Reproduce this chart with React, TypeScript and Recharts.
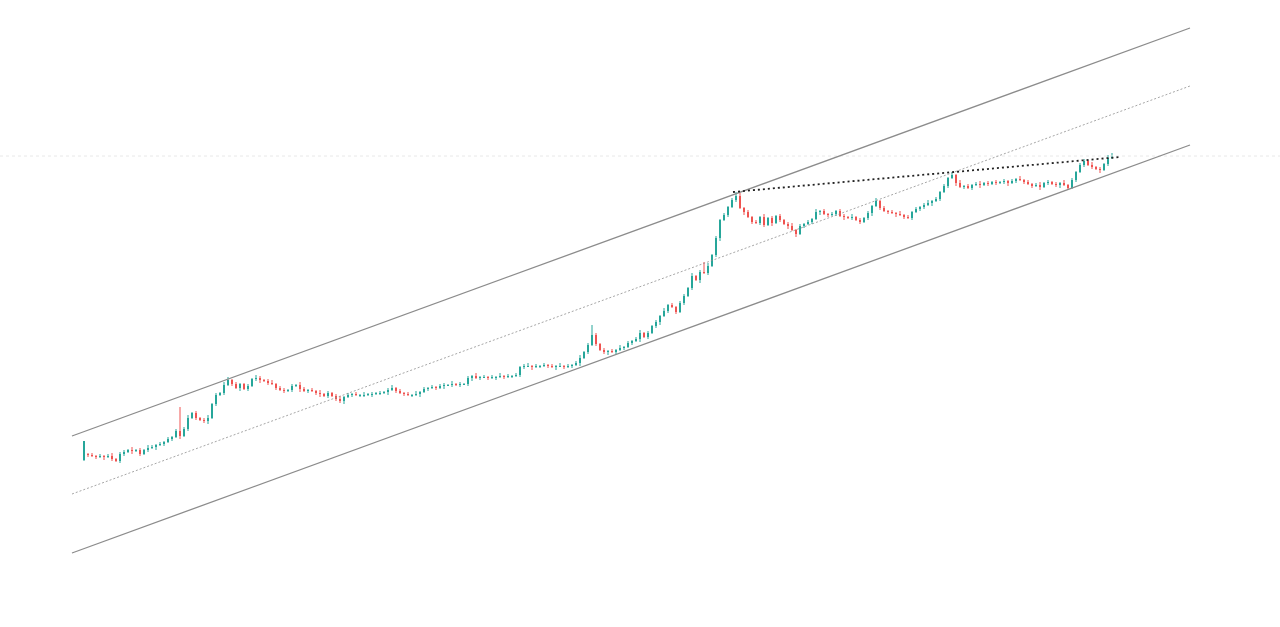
import { ComposedChart, Bar, XAxis, YAxis, ReferenceLine } from "recharts";

// Weekly closes (index level units)
const CLOSES: number[] = [
  186, 172, 171, 170, 171, 170, 171, 168, 166, 173,
  175, 177, 176, 177, 173, 177, 179, 180, 182, 183,
  185, 188, 190, 196, 191, 198, 209, 214, 209, 207,
  206, 209, 223, 232, 234, 242, 247, 243, 239, 243,
  238, 241, 248, 249, 247, 246, 244, 243, 239, 237,
  236, 237, 241, 242, 238, 236, 237, 236, 234, 233,
  231, 234, 231, 228, 226, 230, 232, 233, 232, 232,
  232, 233, 233, 234, 234, 235, 237, 239, 236, 234,
  233, 232, 232, 233, 235, 238, 239, 240, 239, 241,
  242, 242, 243, 242, 243, 243, 249, 251, 249, 250,
  250, 249, 250, 250, 251, 250, 251, 251, 252, 260,
  261, 261, 260, 261, 261, 262, 261, 260, 261, 261,
  260, 261, 262, 264, 269, 275, 282, 292, 283, 277,
  275, 276, 275, 277, 279, 280, 284, 286, 288, 294,
  290, 294, 301, 305, 311, 316, 322, 320, 315, 324,
  331, 339, 351, 347, 355, 354, 361, 372, 389, 407,
  412, 420, 427, 431, 419, 415, 410, 405, 404, 410,
  402, 409, 404, 411, 407, 403, 401, 397, 393, 401,
  403, 405, 408, 415, 416, 413, 412, 413, 416, 411,
  410, 409, 410, 407, 405, 409, 414, 421, 426, 419,
  416, 415, 414, 413, 412, 410, 409, 415, 418, 420,
  422, 424, 426, 428, 435, 441, 449, 452, 444, 440,
  441, 439, 442, 443, 442, 444, 443, 445, 444, 445,
  446, 444, 446, 448, 447, 445, 443, 441, 442, 440,
  444, 445, 443, 442, 444, 442, 439, 447, 455, 462,
  466, 462, 460, 458, 457, 463, 469, 471,
];

// Opens that gap away from the previous close
const OPENS: Record<number, number> = { 0: 167, 1: 173 };

// Wick length above / below each body, one digit per week
const UP_WICKS =
  "0121212312" + "2131213212" + "1212123121" + "2312132121" + "1213212312" +
  "2121321213" + "1212312121" + "3121212312" + "1213121212" + "2131212131" +
  "2121312121" + "2312121213" + "1212312121" + "2121312123" + "1212131212" +
  "2131213121" + "2121312121" + "3121212312" + "1213121212" + "2131212131" +
  "2121312121" + "2312121213" + "1212312121" + "2121312123" + "1212131212" +
  "21312132";
const DOWN_WICKS =
  "1212131212" + "2131212131" + "2121312121" + "2312121213" + "1212312121" +
  "2121312123" + "1212131212" + "2131213121" + "2121312121" + "3121212312" +
  "1213121212" + "2131212131" + "2121312121" + "2312121213" + "1212312121" +
  "2121312123" + "1212131212" + "2131213121" + "2121312121" + "3121212312" +
  "1213121212" + "2131212131" + "2121312121" + "2312121213" + "1212312121" +
  "21213121";

// Long wicks that stick out well past the body
const HIGHS: Record<number, number> = {
  24: 220, 36: 250, 127: 302, 155: 365, 163: 435, 198: 429, 217: 455, 257: 474,
};
const LOWS: Record<number, number> = { 64: 224, 178: 390 };

// Regression channel and resistance, in the same units
const CHANNEL_X = [-3, 276.5];
const UPPER = [191, 599];
const MIDDLE = [133, 541];
const LOWER = [74, 482];
const RESIST_X = [162.25, 259];
const RESIST_Y = [435, 470];
const LAST_LEVEL = 471;

const UP = "#26a69a";
const DOWN = "#ef5350";

const data = CLOSES.map((close, i) => {
  const open = OPENS[i] ?? CLOSES[i - 1];
  const high = Math.max(Math.max(open, close) + Number(UP_WICKS[i] ?? 0), HIGHS[i] ?? -Infinity);
  const low = Math.min(Math.min(open, close) - Number(DOWN_WICKS[i] ?? 0), LOWS[i] ?? Infinity);
  return { i, open, close, high, low };
});

// eslint-disable-next-line @typescript-eslint/no-explicit-any
const Candle = (props: any) => {
  const { x, y, width, height, payload } = props;
  const { open, close, high, low } = payload;
  const color = close >= open ? UP : DOWN;
  const cx = x + width / 2;
  const span = high - low;
  const py = (v: number) => (span > 0 ? y + ((high - v) / span) * height : y);
  const top = py(Math.max(open, close));
  const bot = py(Math.min(open, close));
  return (
    <g>
      <line x1={cx} x2={cx} y1={y} y2={y + Math.max(height, 1)} stroke={color} strokeWidth={1} />
      <rect x={cx - 1} y={top} width={2} height={Math.max(bot - top, 1)} fill={color} />
    </g>
  );
};

export default function App() {
  return (
    <div style={{ position: "absolute", left: 0, top: 0, background: "#fff" }}>
      <ComposedChart width={1280} height={627} data={data} margin={{ top: 0, right: 0, bottom: 0, left: 0 }}>
        <XAxis dataKey="i" type="number" domain={[-21, 299]} hide />
        <YAxis type="number" domain={[0, 627]} hide />
        <ReferenceLine y={LAST_LEVEL} stroke="#e8e8e8" strokeDasharray="3 3" />
        <ReferenceLine
          segment={[{ x: CHANNEL_X[0], y: UPPER[0] }, { x: CHANNEL_X[1], y: UPPER[1] }]}
          stroke="#8c8c8c"
          strokeWidth={1.3}
        />
        <ReferenceLine
          segment={[{ x: CHANNEL_X[0], y: MIDDLE[0] }, { x: CHANNEL_X[1], y: MIDDLE[1] }]}
          stroke="#8f8f8f"
          strokeWidth={0.8}
          strokeDasharray="2 2"
        />
        <ReferenceLine
          segment={[{ x: CHANNEL_X[0], y: LOWER[0] }, { x: CHANNEL_X[1], y: LOWER[1] }]}
          stroke="#8c8c8c"
          strokeWidth={1.3}
        />
        <Bar
          dataKey={(d: { low: number; high: number }) => [d.low, d.high]}
          barSize={2}
          shape={<Candle />}
          isAnimationActive={false}
        />
        <ReferenceLine
          segment={[{ x: RESIST_X[0], y: RESIST_Y[0] }, { x: RESIST_X[1], y: RESIST_Y[1] }]}
          stroke="#222"
          strokeWidth={1.8}
          strokeDasharray="2 3"
        />
      </ComposedChart>
    </div>
  );
}
